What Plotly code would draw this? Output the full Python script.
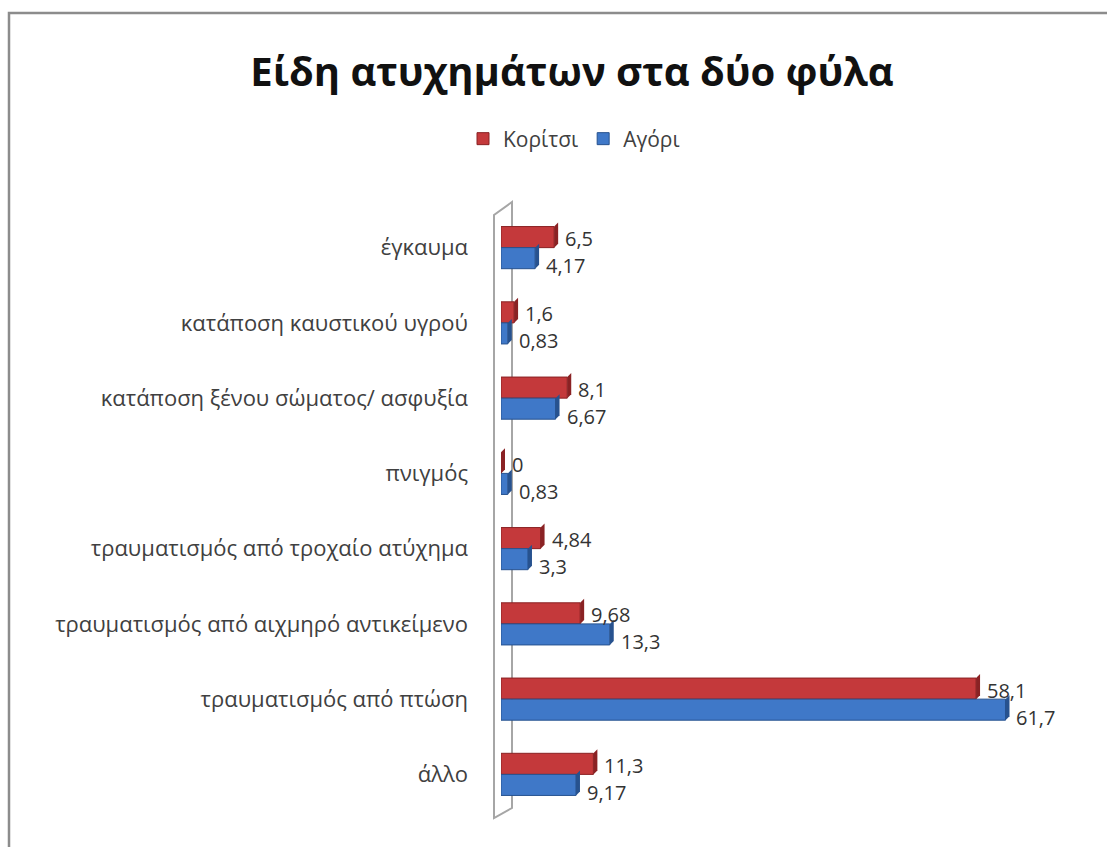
import plotly.graph_objects as go

# Accident types (top to bottom) and percentages per sex
categories = [
    "έγκαυμα",
    "κατάποση καυστικού υγρού",
    "κατάποση ξένου σώματος/ ασφυξία",
    "πνιγμός",
    "τραυματισμός από τροχαίο ατύχημα",
    "τραυματισμός από αιχμηρό αντικείμενο",
    "τραυματισμός από πτώση",
    "άλλο",
]
girls = [6.5, 1.6, 8.1, 0, 4.84, 9.68, 58.1, 11.3]
boys = [4.17, 0.83, 6.67, 0.83, 3.3, 13.3, 61.7, 9.17]


def fmt(v):
    # decimal comma, as in Greek number formatting
    return f"{v:g}".replace(".", ",")


W, H = 1107, 847
ML, MR, MT, MB = 501, 50, 210, 35
XMAX = 68
FONT = "Open Sans"
BARGAP = 0.44

RED, RED_DARK = "#c4393b", "#8a2224"
BLUE, BLUE_DARK = "#3f78c8", "#27528f"

fig = go.Figure()
fig.add_trace(go.Bar(
    y=categories, x=girls, name="Κορίτσι", orientation="h",
    marker=dict(color=RED, line=dict(color=RED_DARK, width=1)),
))
fig.add_trace(go.Bar(
    y=categories, x=boys, name="Αγόρι", orientation="h",
    marker=dict(color=BLUE, line=dict(color=BLUE_DARK, width=1)),
))

pw = W - ML - MR
ph = H - MT - MB
ux = XMAX / pw                    # data units per pixel (x)
uy = len(categories) / ph         # category units per pixel (y)


def px_x(p):
    return (p - ML) / pw


def px_y(p):
    return (H - MB - p) / ph


shapes = []
annotations = []

# bevelled end caps give the bars a 3D look; labels sit past each cap
bar_w = (1 - BARGAP) / 2
depth_x, depth_y = 4 * ux, 4 * uy
for i in range(len(categories)):
    for vals, off, dark, yshift in ((girls, -bar_w, RED_DARK, 9),
                                    (boys, 0.0, BLUE_DARK, -18)):
        v = vals[i]
        y_top, y_bot = i + off, i + off + bar_w
        shapes.append(dict(
            type="path", xref="x", yref="y", layer="above",
            fillcolor=dark, line=dict(width=0),
            path=(f"M {v} {y_top} L {v + depth_x} {y_top - depth_y} "
                  f"L {v + depth_x} {y_bot - depth_y} L {v} {y_bot} Z")))
        annotations.append(dict(
            x=v, y=categories[i], xref="x", yref="y",
            text=fmt(v), showarrow=False, xanchor="left", yanchor="middle",
            xshift=9, yshift=yshift,
            font=dict(size=20, color="#333333", family=FONT)))

# 3D-style back wall drawn as a thin outlined slab behind the bars
shapes.append(dict(
    type="path", xref="paper", yref="paper", layer="below",
    line=dict(color="#a6a6a6", width=2),
    path=(f"M {px_x(494)} {px_y(818)} L {px_x(494)} {px_y(215)} "
          f"L {px_x(512)} {px_y(202)} L {px_x(512)} {px_y(808)} Z")))

# outer chart border
shapes.append(dict(
    type="rect", xref="paper", yref="paper",
    x0=px_x(9), x1=px_x(1120), y0=px_y(860), y1=px_y(13),
    line=dict(color="#8c8c8c", width=2.5)))

fig.update_layout(
    width=W, height=H,
    margin=dict(l=ML, r=MR, t=MT, b=MB),
    paper_bgcolor="white", plot_bgcolor="white",
    barmode="group", bargap=BARGAP, bargroupgap=0,
    font=dict(family=FONT, color="#333333"),
    title=dict(text="<b>Είδη ατυχημάτων στα δύο φύλα</b>",
               x=572 / W, xanchor="center", y=1 - 72 / H, yanchor="middle",
               font=dict(size=40, color="#111111", family=FONT)),
    legend=dict(orientation="h", x=574 / W, xref="container", xanchor="center",
                y=1 - 139 / H, yref="container", yanchor="middle",
                font=dict(size=21, color="#404040", family=FONT),
                itemwidth=30, traceorder="normal"),
    xaxis=dict(range=[0, XMAX], visible=False, showgrid=False, zeroline=False),
    yaxis=dict(autorange="reversed", showgrid=False, zeroline=False,
               showline=False, ticks="", ticklabelstandoff=32,
               tickfont=dict(size=22, color="#404040", family=FONT)),
    shapes=shapes,
    annotations=annotations,
    showlegend=True,
)

fig.write_html("out.html")
